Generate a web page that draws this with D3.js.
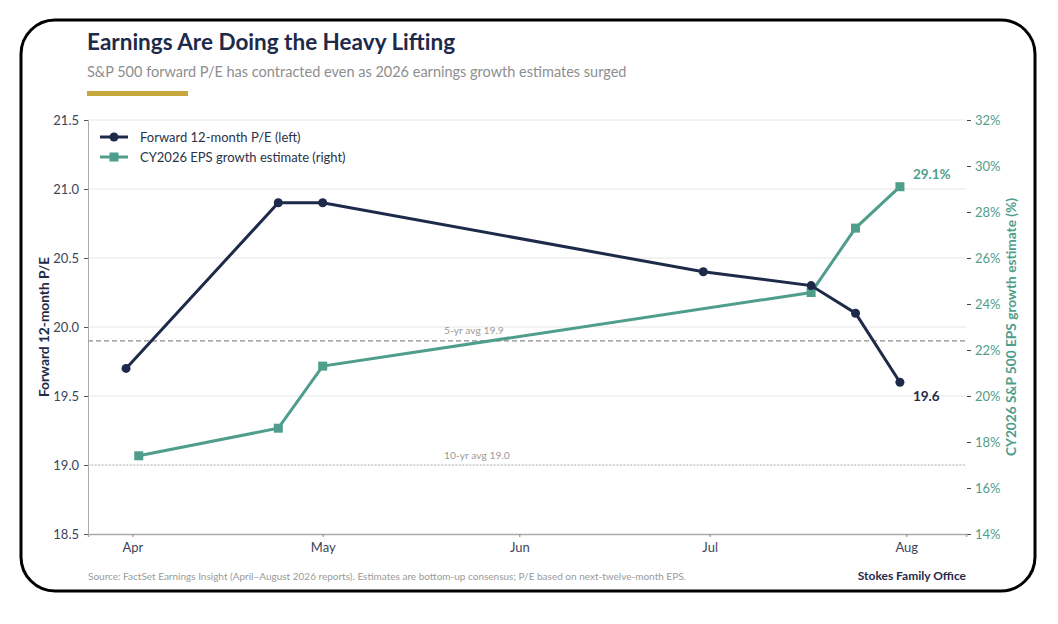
<!DOCTYPE html>
<html>
<head>
<meta charset="utf-8">
<script src="https://d3js.org/d3.v7.min.js"></script>
<style>
  body { margin: 0; background: #fff; }
  svg { display: block; font-family: Lato, "Noto Sans", sans-serif; }
</style>
</head>
<body>
<div id="chart"></div>
<script>
  // Data
  var peDates = ["2026-03-31", "2026-04-24", "2026-05-01", "2026-06-30", "2026-07-17", "2026-07-24", "2026-07-31"];
  var peValues = [19.7, 20.9, 20.9, 20.4, 20.3, 20.1, 19.6];
  var epsDates = ["2026-04-02", "2026-04-24", "2026-05-01", "2026-07-17", "2026-07-24", "2026-07-31"];
  var epsValues = [17.4, 18.6, 21.3, 24.5, 27.3, 29.1];
  var leftTicks = [18.5, 19.0, 19.5, 20.0, 20.5, 21.0, 21.5];
  var rightTicks = [14, 16, 18, 20, 22, 24, 26, 28, 30, 32];
  var monthTicks = ["2026-04-01", "2026-05-01", "2026-06-01", "2026-07-01", "2026-08-01"];
  var avg5 = 19.9, avg10 = 19.0;

  var navy = "#1e2a4a", teal = "#4f9e8c", grey = "#9a9a9a";
  var W = 1058, H = 624;
  var m = { left: 88, right: 966, top: 120, bottom: 534 };

  var parse = d3.timeParse("%Y-%m-%d");
  var pe = peDates.map(function(d, i) { return { date: parse(d), v: peValues[i] }; });
  var eps = epsDates.map(function(d, i) { return { date: parse(d), v: epsValues[i] }; });

  var svg = d3.select("#chart").append("svg").attr("width", W).attr("height", H);

  // card border
  svg.append("rect").attr("x", 21).attr("y", 20).attr("width", 1014).attr("height", 571)
    .attr("rx", 34).attr("fill", "#fff").attr("stroke", "#000").attr("stroke-width", 3);

  var x = d3.scaleTime().domain([parse("2026-03-25"), new Date(2026, 7, 10, 10)]).range([m.left, m.right]);
  var yL = d3.scaleLinear().domain([18.5, 21.5]).range([m.bottom, m.top]);
  var yR = d3.scaleLinear().domain([14, 32]).range([m.bottom, m.top]);

  // title block
  svg.append("text").attr("x", 87).attr("y", 50).attr("fill", navy)
    .style("font-size", "22.5px").style("font-weight", 700).text("Earnings Are Doing the Heavy Lifting");
  svg.append("text").attr("x", 87).attr("y", 77).attr("fill", "#8e8e8e")
    .style("font-size", "14.5px").text("S&P 500 forward P/E has contracted even as 2026 earnings growth estimates surged");
  svg.append("rect").attr("x", 87).attr("y", 91).attr("width", 101).attr("height", 5).attr("fill", "#c6a73c");

  // gridlines
  svg.append("g").selectAll("line").data(leftTicks.slice(1)).enter().append("line")
    .attr("x1", m.left).attr("x2", m.right)
    .attr("y1", function(d) { return yL(d); }).attr("y2", function(d) { return yL(d); })
    .attr("stroke", "#e6e6e6").attr("stroke-width", 1);

  // reference lines
  svg.append("line").attr("x1", m.left).attr("x2", m.right).attr("y1", yL(avg5)).attr("y2", yL(avg5))
    .attr("stroke", "#8a8a8a").attr("stroke-width", 1.2).attr("stroke-dasharray", "5,3");
  svg.append("text").attr("x", 444).attr("y", yL(avg5) - 7)
    .attr("fill", grey).style("font-size", "10.3px").text("5-yr avg " + avg5.toFixed(1));
  svg.append("line").attr("x1", m.left).attr("x2", m.right).attr("y1", yL(avg10)).attr("y2", yL(avg10))
    .attr("stroke", "#b5b5b5").attr("stroke-width", 1).attr("stroke-dasharray", "1.5,2");
  svg.append("text").attr("x", 444).attr("y", yL(avg10) - 6)
    .attr("fill", grey).style("font-size", "10.3px").text("10-yr avg " + avg10.toFixed(1));

  // axes
  var gL = svg.append("g").attr("transform", "translate(" + m.left + ",0)")
    .call(d3.axisLeft(yL).tickValues(leftTicks).tickFormat(d3.format(".1f")).tickSize(4).tickPadding(5));
  gL.select(".domain").attr("stroke", "#aaa");
  gL.selectAll(".tick line").attr("stroke", "#555");
  gL.selectAll("text").attr("fill", "#3c4459").style("font-size", "13px").style("font-family", "Lato");

  var gR = svg.append("g").attr("transform", "translate(" + (m.right + 1) + ",0)")
    .call(d3.axisRight(yR).tickValues(rightTicks).tickFormat(function(d) { return d + "%"; }).tickSize(4).tickPadding(4));
  gR.select(".domain").remove();
  gR.selectAll(".tick line").attr("stroke", "#444");
  gR.selectAll("text").attr("fill", teal).style("font-size", "13px").style("font-family", "Lato");

  var gX = svg.append("g").attr("transform", "translate(0," + m.bottom + ")")
    .call(d3.axisBottom(x).tickValues(monthTicks.map(parse)).tickFormat(d3.timeFormat("%b")).tickSize(3).tickPadding(6));
  gX.select(".domain").attr("stroke", "#aaa").attr("stroke-width", 1.5);
  gX.selectAll(".tick line").attr("stroke", "#888");
  gX.selectAll("text").attr("fill", "#3c4459").style("font-size", "13px").style("font-family", "Lato");

  // axis titles
  svg.append("text").attr("transform", "translate(49," + ((m.top + m.bottom) / 2) + ") rotate(-90)")
    .attr("text-anchor", "middle").attr("fill", navy).style("font-size", "13.7px").style("font-weight", 700)
    .text("Forward 12-month P/E");
  svg.append("text").attr("transform", "translate(1016," + ((m.top + m.bottom) / 2) + ") rotate(-90)")
    .attr("text-anchor", "middle").attr("fill", teal).style("font-size", "13.7px").style("font-weight", 700)
    .text("CY2026 S&P 500 EPS growth estimate (%)");

  // series lines
  var linePE = d3.line().x(function(d) { return x(d.date); }).y(function(d) { return yL(d.v); });
  var lineEPS = d3.line().x(function(d) { return x(d.date); }).y(function(d) { return yR(d.v); });

  svg.append("path").datum(eps).attr("d", lineEPS).attr("fill", "none")
    .attr("stroke", teal).attr("stroke-width", 3);
  svg.append("g").selectAll("rect").data(eps).enter().append("rect")
    .attr("x", function(d) { return x(d.date) - 4.5; }).attr("y", function(d) { return yR(d.v) - 4.5; })
    .attr("width", 9).attr("height", 9).attr("fill", teal);

  svg.append("path").datum(pe).attr("d", linePE).attr("fill", "none")
    .attr("stroke", navy).attr("stroke-width", 3);
  svg.append("g").selectAll("circle").data(pe).enter().append("circle")
    .attr("cx", function(d) { return x(d.date); }).attr("cy", function(d) { return yL(d.v); })
    .attr("r", 4.5).attr("fill", navy);

  // end labels
  var lastPE = pe[pe.length - 1], lastEPS = eps[eps.length - 1];
  svg.append("text").attr("x", x(lastEPS.date) + 13).attr("y", yR(lastEPS.v) - 8)
    .attr("fill", teal).style("font-size", "13.5px").style("font-weight", 700).text(lastEPS.v.toFixed(1) + "%");
  svg.append("text").attr("x", x(lastPE.date) + 13).attr("y", yL(lastPE.v) + 19)
    .attr("fill", navy).style("font-size", "13.5px").style("font-weight", 700).text(lastPE.v.toFixed(1));

  // legend
  var legend = [
    { label: "Forward 12-month P/E (left)", color: navy, shape: "circle" },
    { label: "CY2026 EPS growth estimate (right)", color: teal, shape: "square" }
  ];
  var lg = svg.append("g").selectAll("g").data(legend).enter().append("g")
    .attr("transform", function(d, i) { return "translate(100," + (137 + i * 20) + ")"; });
  lg.append("line").attr("x1", 0).attr("x2", 28).attr("stroke", function(d) { return d.color; }).attr("stroke-width", 3);
  lg.each(function(d) {
    var g = d3.select(this);
    if (d.shape === "circle") g.append("circle").attr("cx", 14).attr("r", 4.5).attr("fill", d.color);
    else g.append("rect").attr("x", 9.5).attr("y", -4.5).attr("width", 9).attr("height", 9).attr("fill", d.color);
  });
  lg.append("text").attr("x", 40).attr("dy", "0.35em").attr("fill", "#2a3347")
    .style("font-size", "13px").text(function(d) { return d.label; });

  // footer
  svg.append("text").attr("x", 88).attr("y", 580).attr("fill", "#9a9a9a").style("font-size", "10px")
    .text("Source: FactSet Earnings Insight (April\u2013August 2026 reports). Estimates are bottom-up consensus; P/E based on next-twelve-month EPS.");
  svg.append("text").attr("x", 966).attr("y", 580).attr("text-anchor", "end").attr("fill", navy)
    .style("font-size", "12px").style("font-weight", 700).text("Stokes Family Office");
</script>
</body>
</html>
